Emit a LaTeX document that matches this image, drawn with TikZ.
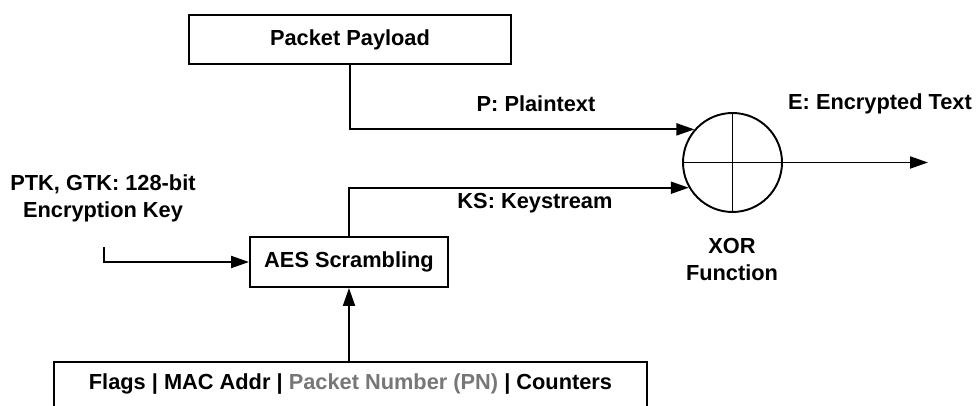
\documentclass[tikz,border=0pt]{standalone}
\usepackage{fontspec}
\setmainfont{Liberation Sans}
\usepackage{xcolor}
\usepackage{tikz}
\usetikzlibrary{arrows.meta}
\definecolor{pngray}{HTML}{777777}
\tikzset{
  blk/.style={draw, line width=1.1pt, inner sep=0pt},
  lbl/.style={font=\fontsize{12.4}{15.4}\selectfont\bfseries, align=center},
  wire/.style={line width=1.1pt},
  flow/.style={wire, -{Triangle[length=0.36cm,width=0.24cm]}}
}
\begin{document}
\begin{tikzpicture}
        \useasboundingbox (0,0) rectangle (19.52,8.12);
        \node [blk, lbl, minimum width=6.44cm, minimum height=0.98cm] (payload) at (7.0,7.33) {Packet Payload};
        \node [blk, lbl, minimum width=3.96cm, minimum height=1.0cm] (aes) at (6.98,2.88) {AES Scrambling};
        \node [blk, circle, minimum size=1.98cm] (xor) at (14.65,4.87) {};
        \node [blk, lbl, anchor=north, minimum width=11.86cm, text height=0.55cm, text depth=0.6cm] (fields) at (7.01,0.9)
              {Flags | MAC Addr | \textcolor{pngray}{Packet Number (PN)} | Counters};
        \node [lbl] (key) at (2.06,4.16) {PTK, GTK: 128-bit\\Encryption Key};
        \node [lbl] (ptxt) at (10.72,6.04) {P: Plaintext};
        \node [lbl] (kstr) at (10.7,4.06) {KS: Keystream};
        \node [lbl] (etxt) at (17.6,6.04) {E: Encrypted Text};
        \node [lbl] (xorname) at (14.64,2.93) {XOR\\Function};
        \coordinate (keyin) at (2.08,3.18);
        \coordinate (out) at (18.56,4.87);
        \draw [wire] (xor.north)--(xor.south);
        \draw [wire] (xor.west)--(xor.east);
        \draw [flow] (payload.south) |- (xor.139);
        \draw [flow] (aes.north) |- (xor.210);
        \draw [flow] (keyin) |- (aes.west);
        \draw [flow] (fields.north -| aes.south) -- (aes.south);
        \draw [flow] (xor.east) -- (out);
\end{tikzpicture}
\end{document}
